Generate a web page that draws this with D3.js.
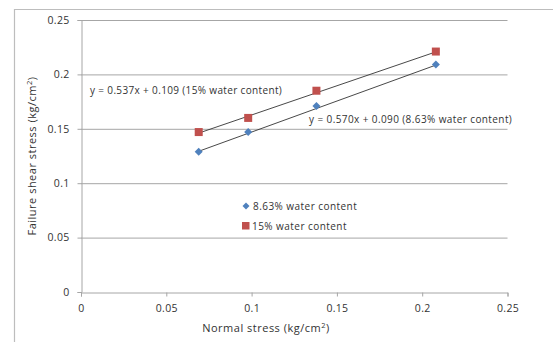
<!DOCTYPE html>
<html><head><meta charset="utf-8">
<script src="https://cdn.jsdelivr.net/npm/d3@7"></script>
<style>body{margin:0;background:#fff}svg{display:block}text{font-family:"Open Sans",sans-serif}</style>
</head><body><svg id="c" width="553" height="342"></svg>
<script>
const normalStress = [0.069, 0.098, 0.138, 0.208];
const shear863 = [0.129, 0.147, 0.171, 0.209];
const shear15 = [0.147, 0.160, 0.185, 0.221];
const fit863 = {slope: 0.570, intercept: 0.090};
const fit15 = {slope: 0.537, intercept: 0.109};
const xTicks = [0, 0.05, 0.1, 0.15, 0.2, 0.25];
const yTicks = [0, 0.05, 0.1, 0.15, 0.2, 0.25];
const seriesNames = ["8.63% water content", "15% water content"];
const eqLabels = ["y = 0.570x + 0.090 (8.63% water content)", "y = 0.537x + 0.109 (15% water content)"];

const svg = d3.select("#c");
const x = d3.scaleLinear().domain([0, 0.25]).range([81, 507.5]);
const y = d3.scaleLinear().domain([0, 0.25]).range([292, 20]);
const blue = "#4F81BD", red = "#C0504D", txt = "#333";

// outer border
svg.append("path").attr("d", "M14.5,342 V9.5 H553").attr("fill", "none").attr("stroke", "#bdbdbd").attr("stroke-width", 1.2);

// gridlines
svg.append("g").selectAll("line").data(yTicks.filter(d => d > 0)).join("line")
  .attr("x1", x(0)).attr("x2", x(0.25)).attr("y1", d => y(d) + 0.5).attr("y2", d => y(d) + 0.5)
  .attr("stroke", "#a6a6a6").attr("stroke-width", 1);

// axes
const xAxis = svg.append("g").attr("transform", `translate(0,${y(0) + 0.5})`)
  .call(d3.axisBottom(x).tickValues(xTicks).tickFormat(d3.format("")).tickSize(4).tickPadding(8));
const yAxis = svg.append("g").attr("transform", `translate(${x(0) + 0.5},0)`)
  .call(d3.axisLeft(y).tickValues(yTicks).tickFormat(d3.format("")).tickSize(4).tickPadding(8));
[xAxis, yAxis].forEach(a => {
  a.select(".domain").attr("stroke", "#a6a6a6");
  a.selectAll(".tick line").attr("stroke", "#a6a6a6");
  a.selectAll(".tick text").attr("fill", txt).attr("font-size", 10.5).attr("font-family", "Open Sans").attr("letter-spacing", 0.3);
});

// trendlines
[[fit863, shear863], [fit15, shear15]].forEach(([f]) => {
  const x0 = d3.min(normalStress), x1 = d3.max(normalStress);
  svg.append("line").attr("x1", x(x0)).attr("y1", y(f.slope * x0 + f.intercept))
    .attr("x2", x(x1)).attr("y2", y(f.slope * x1 + f.intercept))
    .attr("stroke", "#333").attr("stroke-width", 0.9);
});

// markers
const diamond = s => `M0,${-s}L${s},0L0,${s}L${-s},0Z`;
svg.append("g").selectAll("path").data(normalStress).join("path")
  .attr("transform", (d, i) => `translate(${x(d)},${y(shear863[i])})`)
  .attr("d", diamond(4)).attr("fill", blue);
svg.append("g").selectAll("rect").data(normalStress).join("rect")
  .attr("x", d => x(d) - 4).attr("y", (d, i) => y(shear15[i]) - 4)
  .attr("width", 8).attr("height", 8).attr("fill", red);

// equation labels
svg.append("text").attr("x", 90).attr("y", 94).attr("font-size", 10).attr("letter-spacing", 0.35).attr("fill", txt).text(eqLabels[1]);
svg.append("text").attr("x", 309).attr("y", 123).attr("font-size", 10).attr("letter-spacing", 0.4).attr("fill", txt).text(eqLabels[0]);

// legend
svg.append("path").attr("transform", "translate(246,206)").attr("d", diamond(3.5)).attr("fill", blue);
svg.append("text").attr("x", 253).attr("y", 209.5).attr("font-size", 10).attr("letter-spacing", 0.45).attr("fill", txt).text(seriesNames[0]);
svg.append("rect").attr("x", 242).attr("y", 222).attr("width", 7.5).attr("height", 7.5).attr("fill", red);
svg.append("text").attr("x", 252).attr("y", 229.5).attr("font-size", 10).attr("letter-spacing", 0.45).attr("fill", txt).text(seriesNames[1]);

// axis titles
const xt = svg.append("text").attr("x", 266).attr("y", 332).attr("text-anchor", "middle").attr("font-size", 11).attr("letter-spacing", 0.5).attr("fill", txt);
xt.append("tspan").text("Normal stress (kg/cm");
xt.append("tspan").attr("font-size", 7.5).attr("dy", -4).text("2");
xt.append("tspan").attr("dy", 4).text(")");
const yt = svg.append("text").attr("transform", "translate(36,156) rotate(-90)").attr("text-anchor", "middle").attr("font-size", 11).attr("letter-spacing", 0.5).attr("fill", txt);
yt.append("tspan").text("Failure shear stress (kg/cm");
yt.append("tspan").attr("font-size", 7.5).attr("dy", -4).text("2");
yt.append("tspan").attr("dy", 4).text(")");
</script></body></html>
